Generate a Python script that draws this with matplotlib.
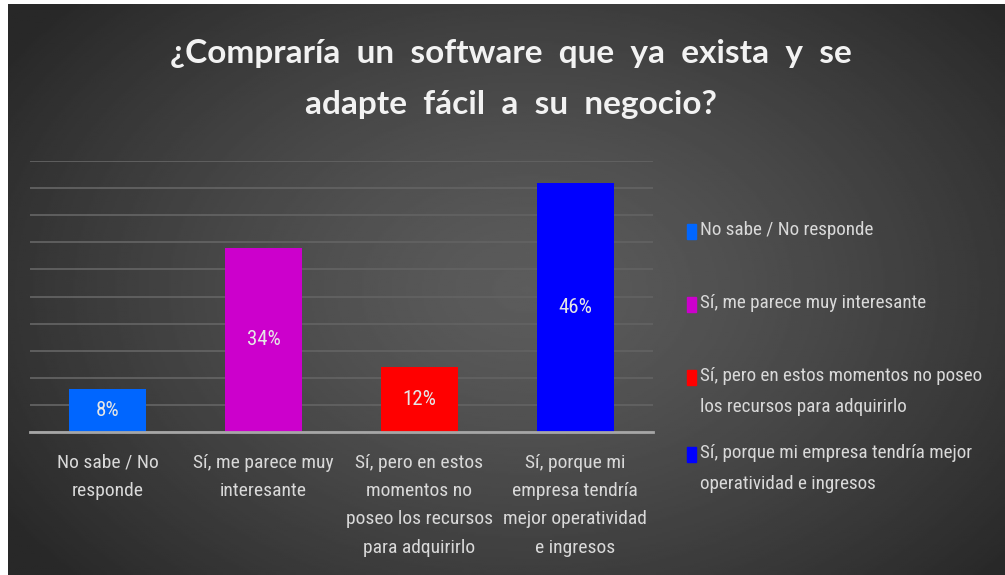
import numpy as np
import matplotlib
matplotlib.use("Agg")
import matplotlib.pyplot as plt
from matplotlib import font_manager
from matplotlib.patches import Rectangle

# data
categorias = ["No sabe / No\nresponde",
              "Sí, me parece muy\ninteresante",
              "Sí, pero en estos\nmomentos no\nposeo los recursos\npara adquirirlo",
              "Sí, porque mi\nempresa tendría\nmejor operatividad\ne ingresos"]
leyenda = ["No sabe / No responde",
           "Sí, me parece muy interesante",
           "Sí, pero en estos momentos no poseo\nlos recursos para adquirirlo",
           "Sí, porque mi empresa tendría mejor\noperatividad e ingresos"]
valores = [0.08, 0.34, 0.12, 0.46]
etiquetas = ["8%", "34%", "12%", "46%"]
colores = ["#0066FF", "#CC00CC", "#FF0000", "#0000FF"]
titulo = "¿Compraría  un  software  que  ya  exista  y  se\nadapte  fácil  a  su  negocio?"

# pick a narrow-ish font if there is one
disponibles = {f.name for f in font_manager.fontManager.ttflist}
fuente = "DejaVu Sans"
for nombre in ["Liberation Sans Narrow", "Roboto Condensed", "Open Sans Condensed", "Lato", "Open Sans"]:
    if nombre in disponibles:
        fuente = nombre
        break
fuente_titulo = "Lato" if "Lato" in disponibles else "DejaVu Sans"

fig = plt.figure(figsize=(10.05, 5.75), dpi=100)
fig.patch.set_facecolor("white")

# radial gradient background
bg = fig.add_axes([8 / 1005, 0, 1 - 8 / 1005, 1 - 4 / 575])
yy, xx = np.mgrid[0:1:300j, 0:1:500j]
r = np.sqrt(((xx - 0.52) / 0.62) ** 2 + ((yy - 0.5) / 0.75) ** 2)
r = np.clip(r, 0, 1)
gris = 0.36 - (0.36 - 0.16) * r ** 1.3
bg.imshow(gris, cmap="gray", vmin=0, vmax=1, aspect="auto", extent=[0, 1, 0, 1])
bg.axis("off")

ax = fig.add_axes([30 / 1005, 1 - 432 / 575, 623 / 1005, 271 / 575])
ax.patch.set_alpha(0)
x = np.arange(len(valores))
barras = ax.bar(x, valores, width=0.495, color=colores, zorder=3)
ax.set_xlim(-0.5, 3.5)
ax.set_ylim(0, 0.5)
ax.set_yticks(np.arange(0, 0.51, 0.05))
ax.yaxis.grid(True, color="#626262", linewidth=1.3, zorder=0)
ax.tick_params(axis="y", left=False, labelleft=False)
for s in ["top", "right", "left"]:
    ax.spines[s].set_visible(False)
ax.spines["bottom"].set_color("#a6a6a6")
ax.spines["bottom"].set_linewidth(2)
ax.spines["bottom"].set_zorder(4)
ax.set_xticks(x)
ax.set_xticklabels(categorias, color="#d9d9d9", fontsize=14, family=fuente, linespacing=1.74, va="top")
ax.tick_params(axis="x", bottom=False, pad=12)

for b, t in zip(barras, etiquetas):
    ax.text(b.get_x() + b.get_width() / 2, b.get_height() / 2, t, ha="center", va="center",
            color="#e6e6e6", fontsize=15, family=fuente, zorder=5)

fig.text(0.508, 1 - 79 / 575, titulo, ha="center", va="center", color="#f2f2f2",
         fontsize=24, fontweight="bold", family=fuente_titulo, linespacing=1.88)

# legend
filas = [229, 302, 375, 452]
for etiqueta, color, yp in zip(leyenda, colores, filas):
    fig.patches.append(Rectangle((687 / 1005, 1 - (yp + 10) / 575), 9 / 1005, 15 / 575,
                                 transform=fig.transFigure, color=color, figure=fig))
    fig.text(700 / 1005, 1 - (yp - 8) / 575, etiqueta, ha="left", va="top", color="#d9d9d9",
             fontsize=13.8, family=fuente, linespacing=1.9)

fig.savefig("out.png", dpi=100)
